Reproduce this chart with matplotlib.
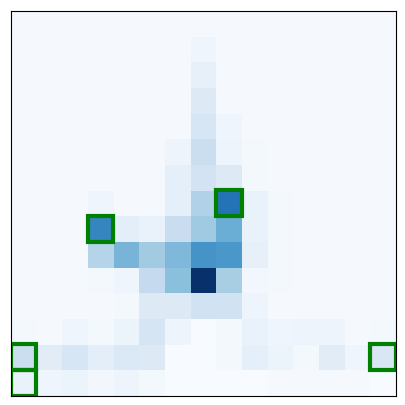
import numpy as np
import matplotlib.pyplot as plt
from matplotlib.patches import Rectangle

# 15x15 grid of intensities (row 0 at top)
row_00 = [0.01] * 15
row_01 = [0.01] * 7 + [0.04] + [0.01] * 7
row_02 = [0.01] * 7 + [0.08] + [0.01] * 7
row_03 = [0.01] * 7 + [0.13] + [0.01] * 7
row_04 = [0.01] * 7 + [0.16, 0.04] + [0.01] * 6
row_05 = [0.01] * 6 + [0.05, 0.22, 0.05, 0.02] + [0.01] * 5
row_06 = [0.01] * 6 + [0.09, 0.18, 0.13, 0.02] + [0.01] * 5
row_07 = [0.01, 0.01, 0.01, 0.04, 0.01, 0.01, 0.09, 0.32, 0.74, 0.07, 0.02, 0.01, 0.01, 0.01, 0.01]
row_08 = [0.01, 0.01, 0.01, 0.67, 0.10, 0.07, 0.23, 0.37, 0.50, 0.07, 0.02, 0.01, 0.01, 0.01, 0.01]
row_09 = [0.01, 0.01, 0.01, 0.30, 0.47, 0.36, 0.45, 0.61, 0.60, 0.08, 0.02, 0.01, 0.01, 0.01, 0.01]
row_10 = [0.01, 0.01, 0.01, 0.02, 0.04, 0.25, 0.42, 1.00, 0.34, 0.03, 0.02, 0.01, 0.01, 0.01, 0.01]
row_11 = [0.01, 0.01, 0.01, 0.01, 0.02, 0.13, 0.13, 0.19, 0.19, 0.05, 0.01, 0.01, 0.01, 0.01, 0.01]
row_12 = [0.02, 0.01, 0.04, 0.02, 0.06, 0.17, 0.05, 0.00, 0.02, 0.07, 0.04, 0.05, 0.05, 0.01, 0.02]
row_13 = [0.22, 0.11, 0.16, 0.10, 0.14, 0.13, 0.00, 0.00, 0.02, 0.09, 0.06, 0.02, 0.11, 0.04, 0.15]
row_14 = [0.07, 0.04, 0.06, 0.03, 0.05, 0.02, 0.00, 0.00, 0.00, 0.00, 0.01, 0.01, 0.01, 0.01, 0.00]

# highlighted cells (row, col)
box_rows = [7, 8, 13, 14, 13]
box_cols = [8, 3, 0, 0, 14]

grid = np.array([row_00, row_01, row_02, row_03, row_04, row_05, row_06, row_07,
                 row_08, row_09, row_10, row_11, row_12, row_13, row_14])

fig = plt.figure(figsize=(4.05, 4.05), dpi=100)
ax = fig.add_axes([10.7 / 405, 9.3 / 405, 385 / 405, 385 / 405])
ax.imshow(grid, cmap='Blues', vmin=0, vmax=1, interpolation='nearest', aspect='auto')

for r, c in zip(box_rows, box_cols):
    ax.add_patch(Rectangle((c - 0.5, r - 0.5), 1, 1, fill=False,
                           edgecolor='green', linewidth=3))

ax.set_xticks([])
ax.set_yticks([])
ax.set_xlim(-0.5, 14.5)
ax.set_ylim(14.5, -0.5)

fig.savefig('out.png', dpi=100)
